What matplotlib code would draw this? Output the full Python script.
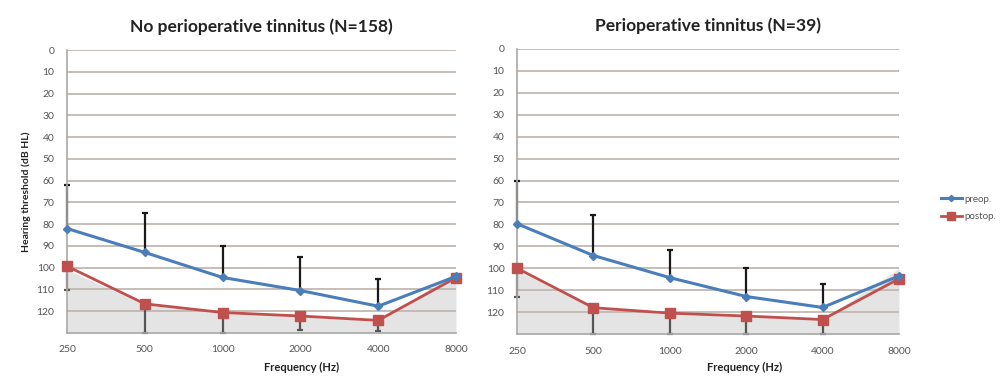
import numpy as np
import matplotlib
matplotlib.use('Agg')
import matplotlib.pyplot as plt

plt.rcParams['font.family'] = ['Lato', 'DejaVu Sans']

# Audiogram data, dB HL (larger = worse hearing)
freqs = ['250', '500', '1000', '2000', '4000', '8000']

no_tin_preop = [82, 93, 104.5, 110.5, 117.7, 104]
no_tin_postop = [99.3, 116.6, 120.6, 122.2, 124.2, 104.6]
no_tin_preop_sd = [20, 18, 14.5, 15.3, 12.5]
no_tin_postop_sd = [11, 13.4, 9.4, 6.6, 4.8]
no_tin_floor = [101, 117, 121, 122.5, 124.5, 102]

tin_preop = [79.7, 94.2, 104.3, 112.9, 117.9, 103.5]
tin_postop = [100, 118, 120.5, 121.8, 123.4, 104.8]
tin_preop_sd = [19.4, 18.7, 12.8, 12.9, 10.7]
tin_postop_sd = [13, 11.8, 9.3, 8, 6.4]
tin_floor = [101, 118, 121, 122, 123.5, 100]

titles = ['No perioperative tinnitus (N=158)', 'Perioperative tinnitus (N=39)']

BLUE = '#4a7ebb'
RED = '#c0504d'
GRID = '#c2b7b0'

fig = plt.figure(figsize=(10.04, 3.82), dpi=100)
ax1 = fig.add_axes([67 / 1004, 49 / 382, 389 / 1004, 283 / 382])
ax2 = fig.add_axes([517 / 1004, 48 / 382, 382 / 1004, 285 / 382])


def unclip(container):
    for part in container[1:]:
        for a in part:
            a.set_clip_on(False)


def audiogram(ax, preop, postop, preop_sd, postop_sd, floor, title):
    x = np.arange(len(freqs))
    ax.fill_between(x, floor, 130, color='#e4e4e4', lw=0, zorder=0)
    for g in range(0, 130, 10):
        ax.axhline(g, color=GRID, lw=1.3, zorder=1)

    # one-sided bars: preop upwards (toward 0 dB), postop downwards
    n = len(preop_sd)
    eb = ax.errorbar(x[:n], preop[:n], yerr=[preop_sd, np.zeros(n)], fmt='none',
                     ecolor='#1a1a1a', elinewidth=1.6, capsize=2.5, capthick=1.6, zorder=2)
    unclip(eb)
    eb = ax.errorbar(x[:n], postop[:n], yerr=[np.zeros(n), postop_sd], fmt='none',
                     ecolor='#555555', elinewidth=1.6, capsize=2.5, capthick=1.6, zorder=2)
    unclip(eb)

    ax.plot(x, preop, color=BLUE, lw=2.2, marker='D', ms=4, zorder=4,
            label='preop.', clip_on=False)
    ax.plot(x, postop, color=RED, lw=2.0, marker='s', ms=7, zorder=3,
            label='postop.', clip_on=False)

    ax.set_xlim(0, 5)
    ax.set_ylim(130, 0)
    ax.set_yticks(range(0, 130, 10))
    ax.set_xticks(x)
    ax.set_xticklabels(freqs)
    ax.tick_params(axis='both', labelsize=7.5, colors='#555555', length=0)
    ax.tick_params(axis='y', pad=9)
    ax.tick_params(axis='x', pad=9)
    for s in ['top', 'right']:
        ax.spines[s].set_visible(False)
    ax.spines['left'].set_color('#a8a8a8')
    ax.spines['bottom'].set_color('#a8a8a8')
    ax.spines['left'].set_linewidth(1.2)
    ax.spines['bottom'].set_linewidth(1.2)
    ax.set_title(title, fontsize=12.5, fontweight='bold', color='#222222', pad=13)


audiogram(ax1, no_tin_preop, no_tin_postop, no_tin_preop_sd, no_tin_postop_sd,
          no_tin_floor, titles[0])
audiogram(ax2, tin_preop, tin_postop, tin_preop_sd, tin_postop_sd,
          tin_floor, titles[1])

ax1.set_ylabel('Hearing threshold (dB HL)', fontsize=7.5, fontweight='bold', color='#222222')
fig.text(302 / 1004, 1 - 367 / 382, 'Frequency (Hz)', fontsize=8, fontweight='bold',
         color='#222222', ha='center', va='center')
fig.text(745 / 1004, 1 - 367 / 382, 'Frequency (Hz)', fontsize=8, fontweight='bold',
         color='#222222', ha='center', va='center')

handles, labels = ax2.get_legend_handles_labels()
fig.legend(handles, labels, loc='center left', bbox_to_anchor=(932 / 1004, 1 - 208 / 382),
           frameon=False, fontsize=7, handlelength=2.2, handletextpad=0.2,
           labelspacing=0.9, labelcolor='#555555', markerscale=0.8)

fig.savefig('out.png', dpi=100)
